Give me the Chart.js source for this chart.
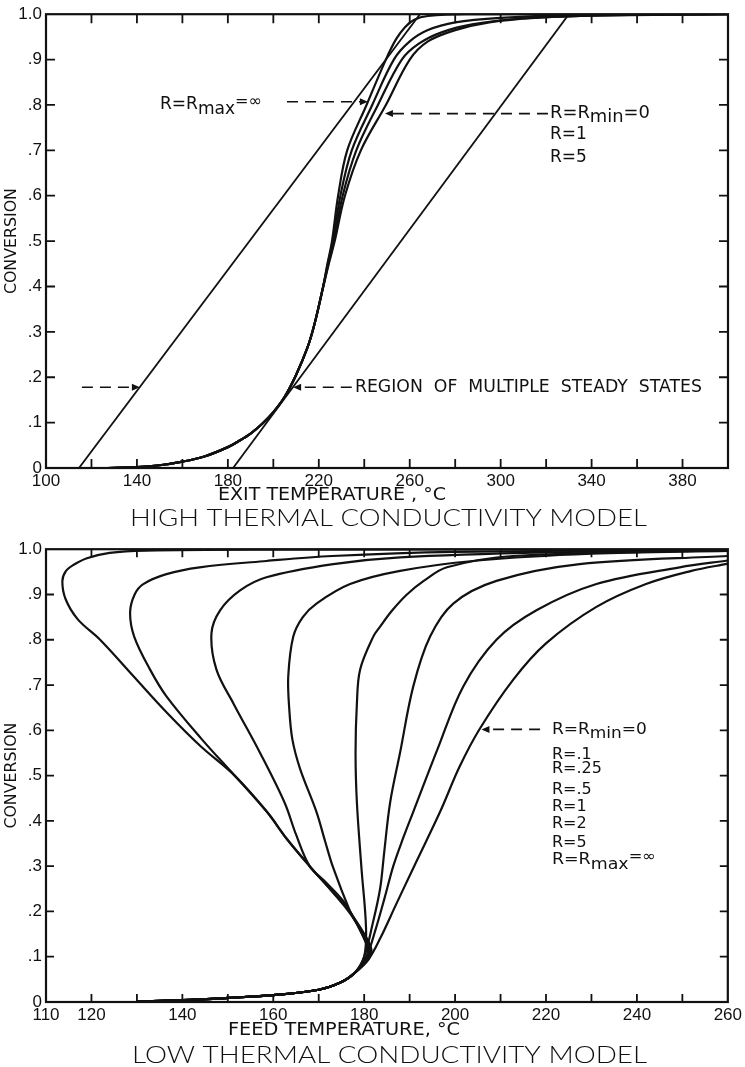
<!DOCTYPE html>
<html>
<head>
<meta charset="utf-8">
<script src="https://cdn.jsdelivr.net/npm/chart.js@4.4.1/dist/chart.umd.min.js"></script>
<style>
  html, body { margin: 0; padding: 0; background: #fff; }
  #wrap { position: relative; width: 745px; height: 1067px; }
  canvas { position: absolute; left: 0; }
  #high { top: 0; }
  #low { top: 535px; }
</style>
</head>
<body>
<div id="wrap">
  <canvas id="high" width="745" height="535"></canvas>
  <canvas id="low" width="745" height="532"></canvas>
</div>
<script>
// ---------- axes ----------
const conversionTicks = [0, 0.1, 0.2, 0.3, 0.4, 0.5, 0.6, 0.7, 0.8, 0.9, 1.0];

const exitTempTicks = [100, 120, 140, 160, 180, 200, 220, 240, 260, 280, 300, 320, 340, 360, 380, 400];
const exitTempLabels = [100, 140, 180, 220, 260, 300, 340, 380];

const feedTempTicks = [110, 120, 130, 140, 150, 160, 170, 180, 190, 200, 210, 220, 230, 240, 250, 260];
const feedTempLabels = [110, 120, 140, 160, 180, 200, 220, 240, 260];

// ---------- high thermal conductivity model: [exit temperature, conversion] ----------
const highLeftLine = [[114.5, 0], [264.5, 1.0]];
const highRightLine = [[182.3, 0], [330, 1.0]];
const highLowerBranch = [[125, 0], [140, 0.002], [150, 0.006], [160, 0.014], [170, 0.026], [180, 0.046],
  [185, 0.06], [190, 0.076], [195, 0.097], [200, 0.123], [205, 0.157], [210, 0.205], [215, 0.265],
  [218, 0.315], [221.5, 0.39]];
const highRinf = [[223.8, 0.45], [225.8, 0.5], [228.5, 0.6], [232.5, 0.7], [241, 0.8], [249.5, 0.9], [254, 0.945],
  [258, 0.972], [262, 0.988], [268, 0.996], [285, 1.0], [400, 1.0]];
const highR5 = [[224, 0.45], [226.2, 0.5], [229.5, 0.6], [234.5, 0.7], [243.5, 0.8], [253, 0.9], [260, 0.94],
  [268, 0.965], [280, 0.982], [300, 0.992], [330, 0.998], [400, 1.0]];
const highR1 = [[224.2, 0.45], [226.6, 0.5], [230.5, 0.6], [236.5, 0.7], [246, 0.8], [256.5, 0.9], [264, 0.935],
  [274, 0.96], [288, 0.978], [308, 0.99], [340, 0.997], [400, 1.0]];
const highR0 = [[224.4, 0.45], [227, 0.5], [231.5, 0.6], [238.5, 0.7], [249.5, 0.8], [260, 0.9], [268, 0.94],
  [280, 0.965], [295, 0.982], [315, 0.992], [350, 0.998], [400, 1.0]];

// ---------- low thermal conductivity model: [feed temperature, conversion] ----------
const lowLowerBranch = [[130, 0.001], [140, 0.004], [150, 0.009], [160, 0.015], [170, 0.027], [175, 0.044], [178, 0.065]];
const lowR0 = [[181, 0.095], [183.5, 0.14], [187, 0.215], [191, 0.3], [196.7, 0.42], [201, 0.52], [205.4, 0.603],
  [212.8, 0.712], [220, 0.792], [231, 0.872], [242, 0.923], [252, 0.952], [260, 0.968]];
const lowR01 = [[180.5, 0.1], [182.5, 0.16], [184.5, 0.23], [186.4, 0.3], [188.5, 0.36], [190.8, 0.42], [196.2, 0.56],
  [201.8, 0.697], [209.1, 0.8], [217.9, 0.865], [231.1, 0.923], [249.4, 0.96], [260, 0.975]];
const lowR025 = [[180, 0.1], [181.8, 0.17], [183.5, 0.25], [184.4, 0.33], [185.7, 0.44], [187.9, 0.551], [190.8, 0.697],
  [194.5, 0.807], [199.6, 0.88], [209.1, 0.93], [227.4, 0.967], [260, 0.985]];
const lowR05 = [[180, 0.1], [180.4, 0.165], [179.4, 0.296], [178.4, 0.44], [178.1, 0.55], [178.4, 0.66], [179.1, 0.734],
  [182, 0.807], [183.5, 0.829], [186.1, 0.864], [189.4, 0.9], [193.1, 0.93], [198.2, 0.96], [212.7, 0.985], [260, 0.998]];
const lowR1 = [[180.3, 0.095], [180.8, 0.115], [180, 0.14], [178.5, 0.17], [176.9, 0.2], [173.2, 0.296], [171.4, 0.355],
  [169.5, 0.42], [165.9, 0.515], [164.2, 0.58], [163.5, 0.65], [163.3, 0.72], [164.4, 0.807], [166.5, 0.85],
  [169.5, 0.88], [176.9, 0.923], [187.9, 0.952], [205, 0.975], [230, 0.99], [260, 0.996]];
const lowR2 = [[180.5, 0.095], [181, 0.115], [180, 0.14], [178.3, 0.175], [175.4, 0.223], [171.5, 0.265], [168, 0.3],
  [165, 0.37], [162.5, 0.44], [157.1, 0.55], [151.2, 0.66], [147.5, 0.734], [146.4, 0.814], [148.3, 0.865],
  [152.7, 0.909], [158.5, 0.938], [173.2, 0.967], [187.9, 0.982], [220, 0.993], [260, 0.998]];
const lowR5 = [[180.8, 0.095], [181.3, 0.115], [180.3, 0.14], [178.3, 0.175], [175.8, 0.21], [172, 0.255], [168, 0.3],
  [163, 0.36], [158.6, 0.42], [151.5, 0.5], [144.3, 0.58], [136.5, 0.675], [132.9, 0.734], [129.4, 0.807],
  [128.5, 0.86], [129.5, 0.9], [131.4, 0.923], [136.5, 0.945], [143.8, 0.96], [158.5, 0.974], [173, 0.985],
  [200, 0.994], [260, 0.999]];
const lowRinf = [[181, 0.095], [181.6, 0.115], [180.6, 0.14], [178.5, 0.175], [176, 0.21], [172, 0.255], [168, 0.3],
  [163, 0.36], [158.6, 0.42], [151.5, 0.5], [143.9, 0.566], [136.5, 0.64], [129.2, 0.72], [121.9, 0.8], [117, 0.845],
  [114.3, 0.89], [113.6, 0.93], [114.4, 0.952], [116, 0.965], [119, 0.98], [124, 0.992], [132, 0.997], [160, 0.999],
  [260, 1.0]];

// ---------- styling ----------
const INK = '#111';
const TICK_FONT = '"Liberation Sans Narrow", "Liberation Sans", sans-serif';
const NOTE_FONT = '"DejaVu Sans", sans-serif';
const TITLE_FONT = '"Lato", "Open Sans", "DejaVu Sans", sans-serif';

const toPoints = arr => arr.map(([x, y]) => ({ x, y }));
const curve = arr => ({ data: toPoints(arr), showLine: true, borderColor: INK, borderWidth: 2.2,
  pointRadius: 0, tension: 0.35, fill: false });
const straight = arr => ({ data: toPoints(arr), showLine: true, borderColor: INK, borderWidth: 1.8,
  pointRadius: 0, tension: 0, fill: false });

function conversionLabel(v) {
  if (v > 0.999) return '1.0';
  if (v < 0.001) return '0';
  return '.' + Math.round(v * 10);
}

// text squeezed or stretched horizontally to a given width, vertically centred on yMid
function drawFitted(ctx, text, left, yMid, width, font) {
  ctx.font = font;
  const w = ctx.measureText(text).width;
  ctx.save();
  ctx.translate(left, yMid);
  ctx.scale(width / w, 1);
  ctx.textAlign = 'left';
  ctx.textBaseline = 'middle';
  ctx.fillText(text, 0, 0);
  ctx.restore();
}

// label made of pieces, some lowered (subscripts) or raised
function drawParts(ctx, parts, left, yMid, size, width) {
  let total = 0;
  parts.forEach(p => {
    ctx.font = `${Math.round(size * (p.scale || 1))}px ${NOTE_FONT}`;
    p.w = ctx.measureText(p.t).width;
    total += p.w;
  });
  ctx.save();
  ctx.translate(left, yMid);
  if (width) ctx.scale(width / total, 1);
  ctx.textAlign = 'left';
  ctx.textBaseline = 'middle';
  let cx = 0;
  parts.forEach(p => {
    ctx.font = `${Math.round(size * (p.scale || 1))}px ${NOTE_FONT}`;
    ctx.fillText(p.t, cx, p.dy || 0);
    cx += p.w;
  });
  ctx.restore();
}

function dashedArrow(ctx, x0, y0, x1, y1) {
  const dir = Math.sign(x1 - x0);
  ctx.save();
  ctx.lineWidth = 1.6;
  ctx.setLineDash([11, 7]);
  ctx.beginPath();
  ctx.moveTo(x0, y0);
  ctx.lineTo(x1 - dir * 6, y1);
  ctx.stroke();
  ctx.setLineDash([]);
  ctx.beginPath();
  ctx.moveTo(x1, y1);
  ctx.lineTo(x1 - dir * 8, y1 - 3.5);
  ctx.lineTo(x1 - dir * 8, y1 + 3.5);
  ctx.closePath();
  ctx.fill();
  ctx.restore();
}

const rMax = [{ t: 'R=R' }, { t: 'max', dy: 5 }, { t: '=\u221E', dy: -3, scale: 0.95 }];
const rMin = [{ t: 'R=R' }, { t: 'min', dy: 4 }, { t: '=0' }];

// frame, inward tick marks, arrows and lettering
const frameAndNotes = {
  id: 'frameAndNotes',
  afterDatasetsDraw(chart, args, o) {
    const { ctx, chartArea: a, scales: { x, y } } = chart;
    ctx.save();
    ctx.strokeStyle = INK;
    ctx.fillStyle = INK;
    ctx.lineWidth = 2.2;
    ctx.strokeRect(a.left, a.top, a.right - a.left, a.bottom - a.top);

    ctx.lineWidth = 1.8;
    ctx.beginPath();
    o.xTicks.forEach(v => {
      if (v <= x.min || v >= x.max) return;
      const px = x.getPixelForValue(v);
      ctx.moveTo(px, a.bottom); ctx.lineTo(px, a.bottom - o.tickLen);
      ctx.moveTo(px, a.top); ctx.lineTo(px, a.top + o.tickLen);
    });
    o.yTicks.forEach(v => {
      if (v <= y.min || v >= y.max) return;
      const py = y.getPixelForValue(v);
      ctx.moveTo(a.left, py); ctx.lineTo(a.left + o.tickLen, py);
      ctx.moveTo(a.right, py); ctx.lineTo(a.right - o.tickLen, py);
    });
    ctx.stroke();

    o.arrows.forEach(ar => {
      dashedArrow(ctx, x.getPixelForValue(ar.from[0]), y.getPixelForValue(ar.from[1]),
        x.getPixelForValue(ar.to[0]), y.getPixelForValue(ar.to[1]));
    });

    o.labels.forEach(lb => {
      const px = x.getPixelForValue(lb.at[0]);
      const py = y.getPixelForValue(lb.at[1]);
      if (lb.parts) drawParts(ctx, lb.parts, px, py, lb.size, lb.width);
      else if (lb.width) drawFitted(ctx, lb.text, px, py, lb.width, `${lb.size}px ${NOTE_FONT}`);
      else drawParts(ctx, [{ t: lb.text }], px, py, lb.size);
    });

    // vertical axis title
    ctx.save();
    ctx.translate(12, (a.top + a.bottom) / 2);
    ctx.rotate(-Math.PI / 2);
    drawFitted(ctx, 'CONVERSION', -53, 0, 106, `15px ${NOTE_FONT}`);
    ctx.restore();

    drawFitted(ctx, o.xTitle.text, o.xTitle.left, o.xTitle.y, o.xTitle.width, `17px ${NOTE_FONT}`);
    drawFitted(ctx, o.title.text, o.title.left, o.title.y, o.title.width, `300 24px ${TITLE_FONT}`);
    ctx.restore();
  }
};

function makeOptions(cfg) {
  return {
    responsive: false,
    animation: false,
    events: [],
    layout: { padding: { left: 0, right: 17, top: cfg.top, bottom: 0 } },
    plugins: { legend: { display: false }, tooltip: { enabled: false }, frameAndNotes: cfg.notes },
    scales: {
      x: {
        type: 'linear', min: cfg.xMin, max: cfg.xMax,
        grid: { display: false, drawTicks: false }, border: { display: false },
        afterBuildTicks: s => { s.ticks = cfg.xTicks.map(v => ({ value: v })); },
        afterFit: s => { s.height = cfg.xHeight; },
        ticks: {
          autoSkip: false, maxRotation: 0, minRotation: 0, padding: 3, color: INK,
          font: { family: TICK_FONT, size: 17 },
          callback: v => cfg.xLabels.includes(v) ? String(v) : ''
        }
      },
      y: {
        type: 'linear', min: 0, max: 1,
        grid: { display: false, drawTicks: false }, border: { display: false },
        afterBuildTicks: s => { s.ticks = conversionTicks.map(v => ({ value: v })); },
        afterFit: s => { s.width = 46; },
        ticks: {
          padding: 4, color: INK, font: { family: TICK_FONT, size: 17 },
          callback: v => conversionLabel(v)
        }
      }
    }
  };
}

new Chart(document.getElementById('high'), {
  type: 'scatter',
  data: {
    datasets: [
      straight(highLeftLine),
      straight(highRightLine),
      curve(highLowerBranch.concat(highRinf)),
      curve(highLowerBranch.concat(highR5)),
      curve(highLowerBranch.concat(highR1)),
      curve(highLowerBranch.concat(highR0))
    ]
  },
  options: makeOptions({
    top: 12, xMin: 100, xMax: 400, xHeight: 67,
    xTicks: exitTempTicks, xLabels: exitTempLabels,
    notes: {
      tickLen: 9, xTicks: exitTempTicks, yTicks: conversionTicks,
      arrows: [
        { from: [206, 0.807], to: [241.6, 0.807] },
        { from: [320.8, 0.781], to: [249.1, 0.781] },
        { from: [115.8, 0.178], to: [141.3, 0.178] },
        { from: [234.5, 0.178], to: [208.7, 0.178] }
      ],
      labels: [
        { at: [150.1, 0.8], parts: rMax, size: 17, width: 102 },
        { at: [321.7, 0.781], parts: rMin, size: 17, width: 100 },
        { at: [321.7, 0.735], text: 'R=1', size: 17 },
        { at: [321.7, 0.684], text: 'R=5', size: 17 },
        { at: [235.9, 0.178], text: 'REGION  OF  MULTIPLE  STEADY  STATES', size: 18, width: 347 }
      ],
      xTitle: { text: 'EXIT TEMPERATURE , \u00B0C', left: 218, width: 228, y: 496 },
      title: { text: 'HIGH THERMAL CONDUCTIVITY MODEL', left: 130, width: 517, y: 518 }
    }
  }),
  plugins: [frameAndNotes]
});

new Chart(document.getElementById('low'), {
  type: 'scatter',
  data: {
    datasets: [
      curve(lowLowerBranch.concat(lowR0)),
      curve(lowLowerBranch.concat(lowR01)),
      curve(lowLowerBranch.concat(lowR025)),
      curve(lowLowerBranch.concat(lowR05)),
      curve(lowLowerBranch.concat(lowR1)),
      curve(lowLowerBranch.concat(lowR2)),
      curve(lowLowerBranch.concat(lowR5)),
      curve(lowLowerBranch.concat(lowRinf))
    ]
  },
  options: makeOptions({
    top: 10, xMin: 110, xMax: 260, xHeight: 65,
    xTicks: feedTempTicks, xLabels: feedTempLabels,
    notes: {
      tickLen: 8, xTicks: feedTempTicks, yTicks: conversionTicks,
      arrows: [
        { from: [218.7, 0.602], to: [205.8, 0.602] }
      ],
      labels: [
        { at: [221.3, 0.602], parts: rMin, size: 16, width: 95 },
        { at: [221.3, 0.546], text: 'R=.1', size: 16 },
        { at: [221.3, 0.514], text: 'R=.25', size: 16 },
        { at: [221.3, 0.468], text: 'R=.5', size: 16 },
        { at: [221.3, 0.432], text: 'R=1', size: 16 },
        { at: [221.3, 0.393], text: 'R=2', size: 16 },
        { at: [221.3, 0.352], text: 'R=5', size: 16 },
        { at: [221.3, 0.313], parts: rMax, size: 16, width: 104 }
      ],
      xTitle: { text: 'FEED TEMPERATURE, \u00B0C', left: 228, width: 232, y: 496 },
      title: { text: 'LOW THERMAL CONDUCTIVITY MODEL', left: 132, width: 515, y: 520 }
    }
  }),
  plugins: [frameAndNotes]
});
</script>
</body>
</html>
